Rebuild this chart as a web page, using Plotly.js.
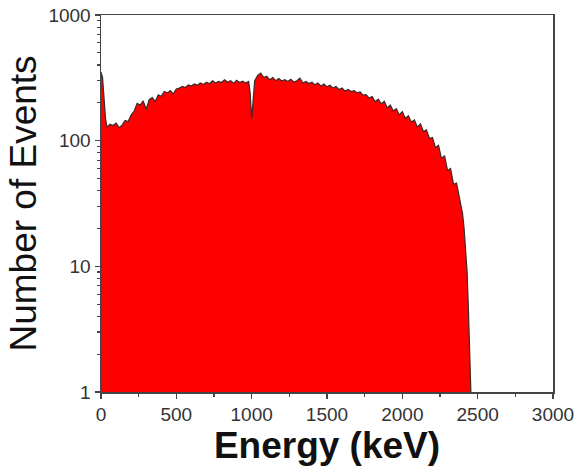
<!DOCTYPE html>
<html>
<head>
<meta charset="utf-8">
<script src="https://cdn.plot.ly/plotly-3.0.1.min.js"></script>
<style>html,body{margin:0;padding:0;background:#fff;}#chart{width:577px;height:468px;}</style>
</head>
<body>
<div id="chart"></div>
<script>
const energy = [0,10,20,30,40,60,80,100,120,140,160,180,200,220,240,260,280,300,320,340,360,380,400,420,440,460,480,500,520,540,560,580,600,620,640,660,680,700,720,740,760,780,800,820,840,860,880,900,920,940,960,980,990,1000,1010,1020,1040,1060,1080,1100,1120,1140,1160,1180,1200,1220,1240,1260,1280,1300,1320,1340,1360,1380,1400,1420,1440,1460,1480,1500,1520,1540,1560,1580,1600,1620,1640,1660,1680,1700,1720,1740,1760,1780,1800,1820,1840,1860,1880,1900,1920,1940,1960,1980,2000,2020,2040,2060,2080,2100,2120,2140,2160,2180,2200,2220,2240,2260,2280,2300,2320,2340,2360,2380,2400,2410,2420,2430,2440,2450,2455];
const events = [350,320,220,150,128,135,132,138,127,133,145,142,160,172,198,192,207,178,212,220,205,232,225,246,240,250,236,258,262,270,265,278,272,283,276,288,280,292,284,300,288,296,290,305,292,300,286,302,290,298,288,296,240,150,210,300,330,345,318,326,305,318,300,312,298,306,296,308,292,300,315,288,296,285,292,278,288,272,282,268,276,262,270,255,262,248,256,246,250,240,244,230,232,218,224,204,214,196,206,182,192,172,180,160,170,150,158,140,146,128,136,118,122,104,106,88,92,72,76,58,60,45,46,34,26,20,14,9,4,1.6,1];
const xTickVals = [0,500,1000,1500,2000,2500,3000];
const yTickVals = [1,10,100,1000];
const yTickText = ['1','10','100','1000'];

const trace = {
  x: energy, y: events, type: 'scatter', mode: 'lines',
  fill: 'tozeroy', fillcolor: '#ff0000',
  line: {color: '#3a2a2a', width: 1.2}, hoverinfo: 'skip'
};
const axisCommon = {
  showgrid: false, zeroline: false, showline: true, linecolor: '#444', linewidth: 1.5,
  mirror: true, ticks: 'outside', ticklen: 5, tickwidth: 1.2, tickcolor: '#444',
  tickfont: {family: 'Liberation Sans, Arial, sans-serif', size: 19, color: '#333'}
};
const layout = {
  width: 577, height: 468,
  margin: {l: 101, r: 24, t: 15, b: 76},
  paper_bgcolor: '#fff', plot_bgcolor: '#fff',
  showlegend: false,
  xaxis: Object.assign({}, axisCommon, {
    range: [0, 3000], tickvals: xTickVals,
    minor: {dtick: 250, ticks: 'outside', ticklen: 3, tickcolor: '#444', tick0: 0},
    title: {text: '<b>Energy (keV)</b>', font: {family: 'Liberation Sans, Arial, sans-serif', size: 37, color: '#111'}, standoff: 0}
  }),
  yaxis: Object.assign({}, axisCommon, {
    type: 'log', range: [0, 3], tickvals: yTickVals, ticktext: yTickText,
    minor: {dtick: 'D1', ticks: 'outside', ticklen: 3, tickcolor: '#444'},
    title: {text: 'Number of Events', font: {family: 'Liberation Sans, Arial, sans-serif', size: 37, color: '#111'}, standoff: 0}
  })
};
Plotly.newPlot('chart', [trace], layout, {displayModeBar: false, staticPlot: true});
</script>
</body>
</html>
